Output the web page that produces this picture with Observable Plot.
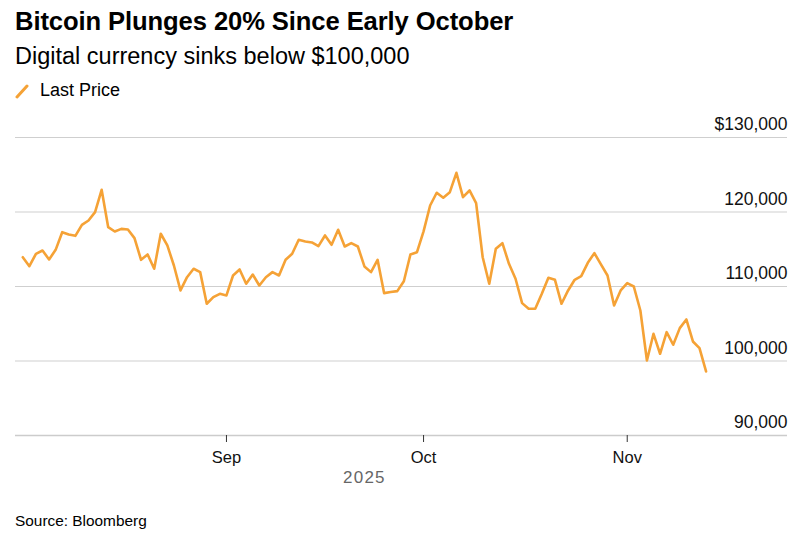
<!DOCTYPE html>
<html>
<head>
<meta charset="utf-8">
<script src="https://cdn.jsdelivr.net/npm/d3@7"></script>
<script src="https://cdn.jsdelivr.net/npm/@observablehq/plot@0.6"></script>
<style>
  html, body { margin: 0; padding: 0; background: #fff; }
  body { width: 797px; height: 533px; position: relative; font-family: "Liberation Sans", Arial, sans-serif; color: #000; overflow: hidden; }
  #title { position: absolute; left: 15px; top: 7px; font-size: 25.6px; font-weight: bold; letter-spacing: -0.1px; white-space: nowrap; }
  #subtitle { position: absolute; left: 15px; top: 43px; font-size: 23.5px; white-space: nowrap; }
  #legend { position: absolute; left: 15px; top: 80px; font-size: 18px; display: flex; align-items: center; }
  #legend svg { margin-right: 11px; }
  #chart { position: absolute; left: 0; top: 110px; }
  #caption { position: absolute; left: 15px; top: 512px; font-size: 15.4px; }
</style>
</head>
<body>
<div id="title">Bitcoin Plunges 20% Since Early October</div>
<div id="subtitle">Digital currency sinks below $100,000</div>
<div id="legend"><svg width="14" height="16"><line x1="2" y1="14" x2="12" y2="3" stroke="#F5A236" stroke-width="3" stroke-linecap="round"/></svg><span>Last Price</span></div>
<div id="chart"></div>
<div id="caption">Source: Bloomberg</div>
<script>
const startDate = "2025-08-01";
const prices = [
  113930,112730,114390,114830,113630,114920,117290,116980,116800,118280,
  118860,119980,122980,117960,117380,117740,117650,116490,113580,114300,
  112380,117080,115510,112820,109470,111250,112380,111930,107680,108570,
  109020,108800,111480,112290,110370,111610,110140,111250,111930,111480,
  113580,114390,116270,116040,115910,115410,116850,115600,117610,115370,
  115820,115370,112690,111930,113580,109110,109250,109380,110700,114300,
  114610,117400,120870,122580,121910,122660,125260,121990,122890,121180,
  113930,110370,115060,115820,113050,111040,107770,107010,107010,109020,
  111170,110900,107680,109470,110900,111390,113180,114480,112960,111480,
  107450,109470,110450,110000,106780,100070,103650,100970,103870,102180,
  104410,105580,102620,101720,98600
];
const yTicks = [90000, 100000, 110000, 120000, 130000];
const yTickLabels = ["90,000", "100,000", "110,000", "120,000", "$130,000"];
const xTicks = ["2025-09-01", "2025-10-01", "2025-11-01"];
const yearLabel = "2025";
const yearLabelDate = "2025-09-22";

const t0 = new Date(startDate + "T00:00:00Z");
const data = prices.map((p, i) => ({date: d3.utcDay.offset(t0, i), price: p}));
const yLabels = yTicks.map((v, i) => ({v, label: yTickLabels[i]}));

const chart = Plot.plot({
  width: 797,
  height: 390,
  marginTop: 27,
  marginBottom: 65,
  marginLeft: 15,
  marginRight: 10,
  style: {fontFamily: "Liberation Sans, Arial, sans-serif", fontSize: "16px", color: "#000", background: "#fff"},
  x: {type: "utc", domain: [new Date(Date.UTC(2025,6,30,21,20)), new Date(Date.UTC(2025,10,25,9,30))]},
  y: {domain: [90000, 130000]},
  marks: [
    Plot.ruleY(yTicks.filter(v => v !== 90000), {stroke: "#cfcfcf", strokeWidth: 1}),
    Plot.ruleY([90000], {stroke: "#cccccc", strokeWidth: 1.6}),
    Plot.axisX(xTicks.map(d => new Date(d + "T00:00:00Z")), {
      tickFormat: d3.utcFormat("%b"), tickSize: 7, tickPadding: 9, stroke: "#333", strokeWidth: 1, fontSize: 16.5, fill: "#111"
    }),
    Plot.axisY({ticks: []}),
    Plot.text([yearLabel], {x: new Date(yearLabelDate + "T00:00:00Z"), frameAnchor: "bottom", dy: 47, fill: "#666", fontSize: 17, text: d => d}),
    Plot.text(yLabels, {y: "v", text: "label", frameAnchor: "right", textAnchor: "end", dy: -13, fontSize: 17.5, fill: "#111"}),
    Plot.lineY(data, {x: "date", y: "price", stroke: "#F5A236", strokeWidth: 2.6, strokeLinejoin: "round"})
  ]
});
chart.querySelectorAll("text").forEach(t => { if (t.textContent === yearLabel) t.setAttribute("letter-spacing", "1.2"); });
document.getElementById("chart").appendChild(chart);
</script>
</body>
</html>
